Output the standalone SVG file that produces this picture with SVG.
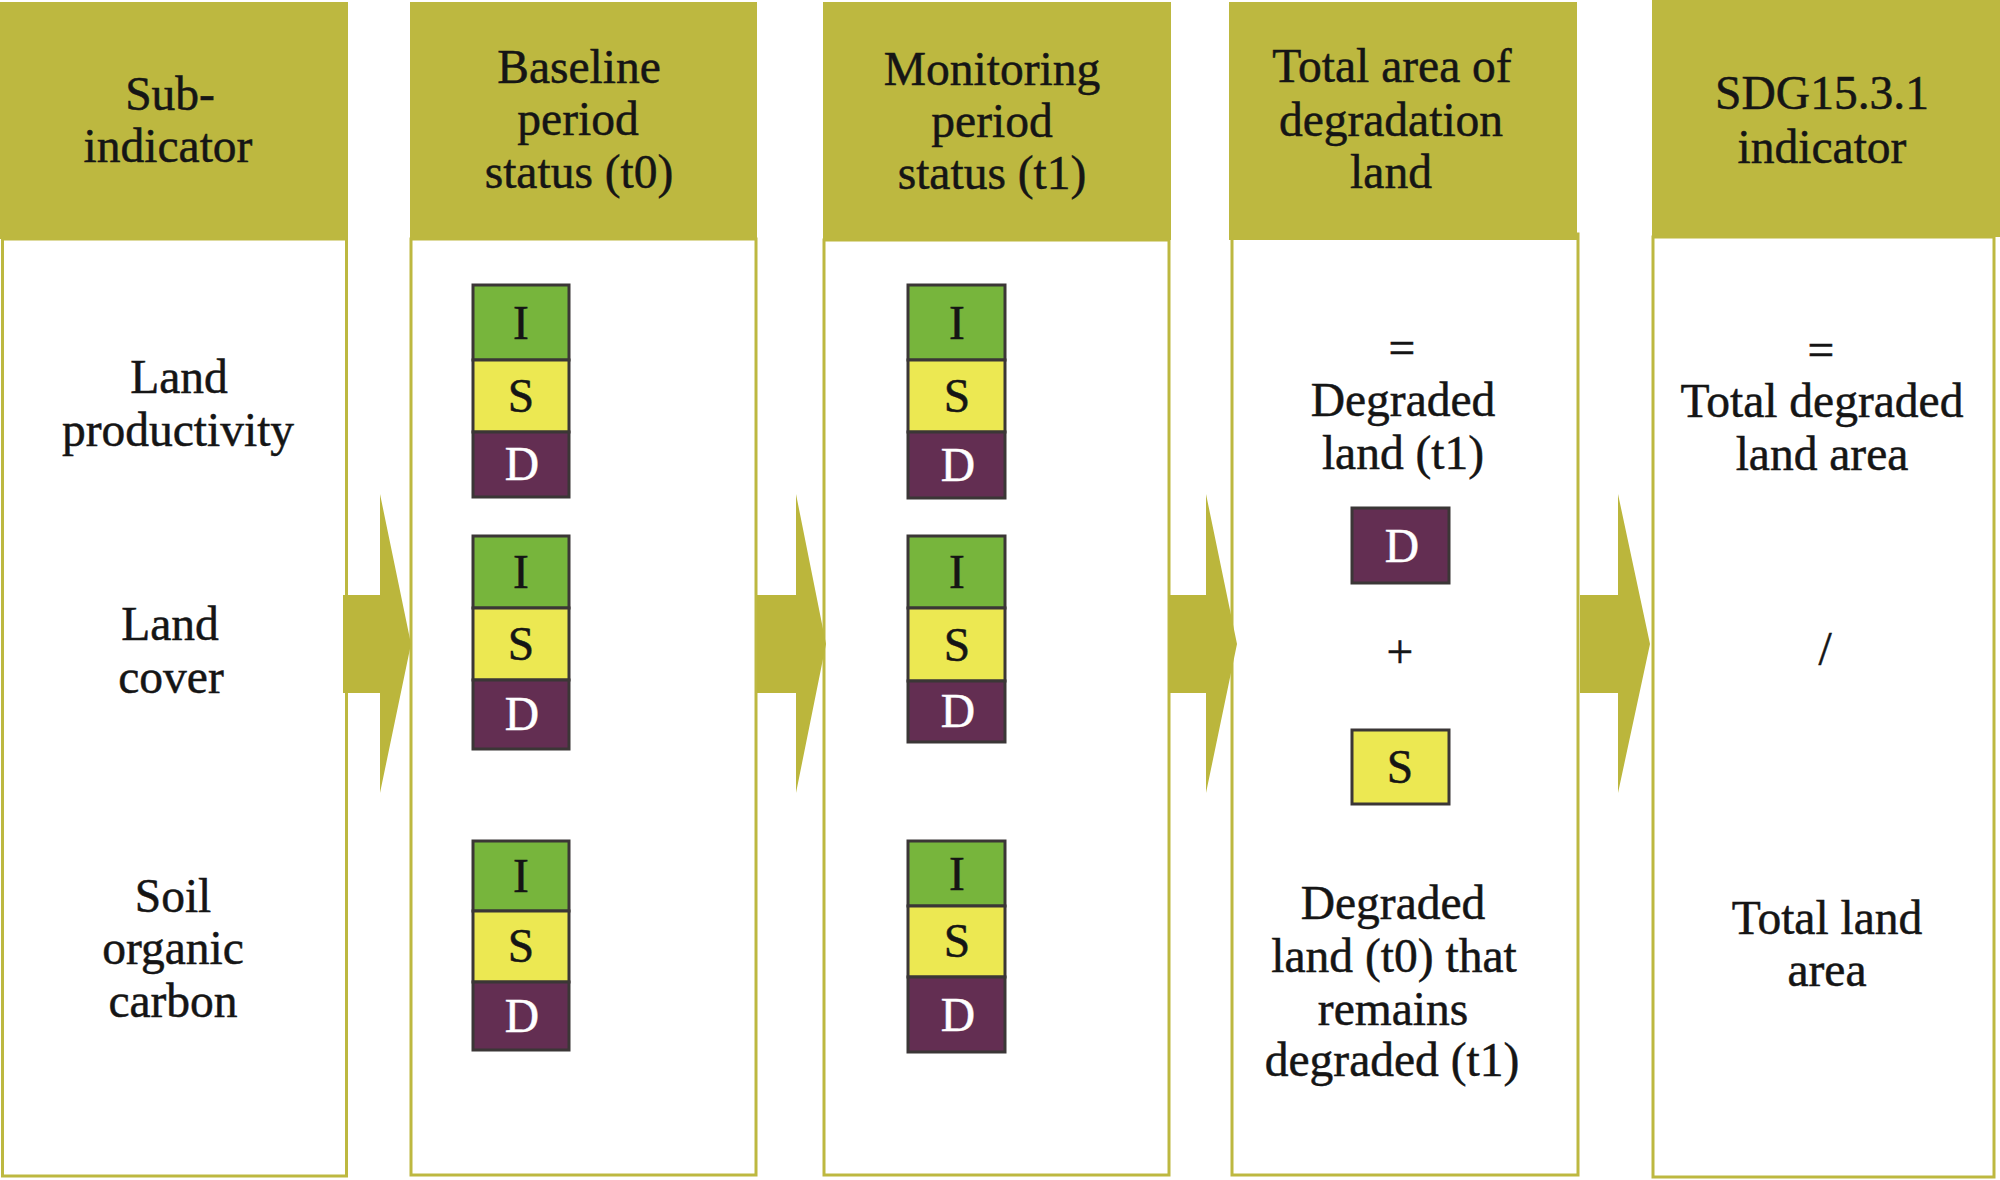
<svg xmlns="http://www.w3.org/2000/svg" width="2000" height="1180" viewBox="0 0 2000 1180">
<style>
.hd{fill:#BDB840}
.bd{fill:#FFFFFF;stroke:#BDB840;stroke-width:3}
.t{font-family:"Liberation Serif","Times New Roman",serif;font-size:47.5px;fill:#151515;stroke:#151515;stroke-width:0.5;text-anchor:middle}
.w{fill:#FFFFFF;stroke:#FFFFFF}
.gi{fill:#77B53C;stroke:#3b3636;stroke-width:3}
.ys{fill:#ECE852;stroke:#3b3636;stroke-width:3}
.pd{fill:#632E52;stroke:#3b3636;stroke-width:3}
.ar{fill:#BBB63C}
</style>
<rect width="2000" height="1180" fill="#FFFFFF"/>
<g id="col1">
<rect class="bd" x="2.5" y="239" width="344" height="937"/>
<rect class="hd" x="0" y="2" width="348" height="237"/>
<text class="t" x="170" y="110">Sub-</text>
<text class="t" x="168" y="162">indicator</text>
<text class="t" x="179" y="393">Land</text>
<text class="t" x="178" y="446">productivity</text>
<text class="t" x="170" y="640">Land</text>
<text class="t" x="171" y="693">cover</text>
<text class="t" x="173" y="912">Soil</text>
<text class="t" x="173" y="964">organic</text>
<text class="t" x="173" y="1017">carbon</text>
</g>
<g id="col2">
<rect class="bd" x="411" y="239" width="345" height="936"/>
<rect class="hd" x="410" y="2" width="347" height="237"/>
<text class="t" x="579" y="83">Baseline</text>
<text class="t" x="578" y="135">period</text>
<text class="t" x="579" y="188">status (t0)</text>
<g id="stack2a">
<rect class="gi" x="473" y="285" width="96" height="75"/>
<rect class="ys" x="473" y="360" width="96" height="72"/>
<rect class="pd" x="473" y="432" width="96" height="65"/>
<text class="t" x="521" y="339">I</text>
<text class="t" x="521" y="412">S</text>
<text class="t w" x="522" y="480">D</text>
</g>
<g id="stack2b">
<rect class="gi" x="473" y="536" width="96" height="72"/>
<rect class="ys" x="473" y="608" width="96" height="72"/>
<rect class="pd" x="473" y="680" width="96" height="69"/>
<text class="t" x="521" y="588">I</text>
<text class="t" x="521" y="660">S</text>
<text class="t w" x="522" y="730">D</text>
</g>
<g id="stack2c">
<rect class="gi" x="473" y="841" width="96" height="70"/>
<rect class="ys" x="473" y="911" width="96" height="71"/>
<rect class="pd" x="473" y="982" width="96" height="68"/>
<text class="t" x="521" y="892">I</text>
<text class="t" x="521" y="962">S</text>
<text class="t w" x="522" y="1032">D</text>
</g>
</g>
<g id="col3">
<rect class="bd" x="824" y="240" width="345" height="935"/>
<rect class="hd" x="823" y="2" width="348" height="238"/>
<text class="t" x="992" y="85">Monitoring</text>
<text class="t" x="992" y="137">period</text>
<text class="t" x="992" y="189">status (t1)</text>
<g id="stack3a">
<rect class="gi" x="908" y="285" width="97" height="75"/>
<rect class="ys" x="908" y="360" width="97" height="72"/>
<rect class="pd" x="908" y="432" width="97" height="66"/>
<text class="t" x="957" y="339">I</text>
<text class="t" x="957" y="412">S</text>
<text class="t w" x="958" y="481">D</text>
</g>
<g id="stack3b">
<rect class="gi" x="908" y="536" width="97" height="72"/>
<rect class="ys" x="908" y="608" width="97" height="73"/>
<rect class="pd" x="908" y="681" width="97" height="61"/>
<text class="t" x="957" y="588">I</text>
<text class="t" x="957" y="661">S</text>
<text class="t w" x="958" y="727">D</text>
</g>
<g id="stack3c">
<rect class="gi" x="908" y="841" width="97" height="65"/>
<rect class="ys" x="908" y="906" width="97" height="71"/>
<rect class="pd" x="908" y="977" width="97" height="75"/>
<text class="t" x="957" y="890">I</text>
<text class="t" x="957" y="957">S</text>
<text class="t w" x="958" y="1031">D</text>
</g>
</g>
<g id="col4">
<rect class="bd" x="1232" y="234" width="346" height="941"/>
<rect class="hd" x="1229" y="2" width="348" height="238"/>
<text class="t" x="1392" y="82">Total area of</text>
<text class="t" x="1391" y="136">degradation</text>
<text class="t" x="1391" y="188">land</text>
<text class="t" x="1402" y="364">=</text>
<text class="t" x="1403" y="416">Degraded</text>
<text class="t" x="1403" y="469">land (t1)</text>
<rect class="pd" x="1352" y="508" width="97" height="75"/>
<text class="t w" x="1402" y="562">D</text>
<text class="t" x="1400" y="668">+</text>
<rect class="ys" x="1352" y="730" width="97" height="74"/>
<text class="t" x="1400" y="783">S</text>
<text class="t" x="1393" y="919">Degraded</text>
<text class="t" x="1394" y="972">land (t0) that</text>
<text class="t" x="1393" y="1025">remains</text>
<text class="t" x="1392" y="1076">degraded (t1)</text>
</g>
<g id="col5">
<rect class="bd" x="1653" y="237" width="341" height="940"/>
<rect class="hd" x="1652" y="0" width="348" height="237"/>
<text class="t" x="1822" y="109">SDG15.3.1</text>
<text class="t" x="1822" y="163">indicator</text>
<text class="t" x="1821" y="366">=</text>
<text class="t" x="1822" y="417">Total degraded</text>
<text class="t" x="1822" y="470">land area</text>
<text class="t" x="1825" y="665">/</text>
<text class="t" x="1827" y="934">Total land</text>
<text class="t" x="1827" y="986">area</text>
</g>
<g id="connectors">
<polygon class="ar" points="343,595 380,595 380,494 411,644 380,793 380,693 343,693"/>
<polygon class="ar" points="757,595 796,595 796,494 826,644 796,793 796,693 757,693"/>
<polygon class="ar" points="1169,595 1206,595 1206,494 1237,644 1206,793 1206,693 1169,693"/>
<polygon class="ar" points="1580,595 1618,595 1618,494 1650,644 1618,793 1618,693 1580,693"/>
</g>
</svg>
